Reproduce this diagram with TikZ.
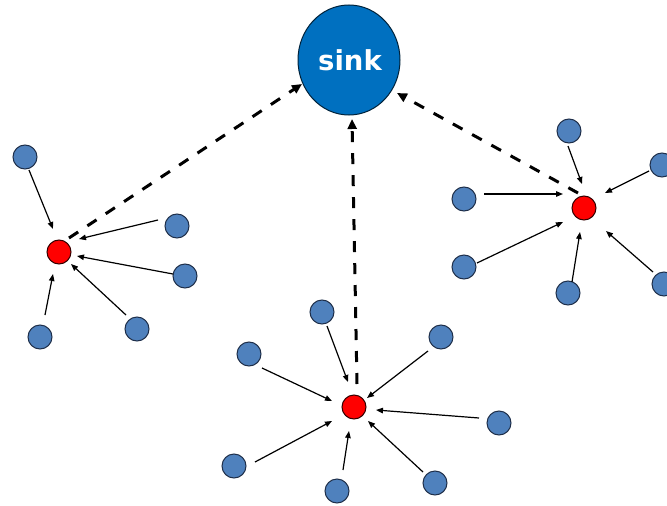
\documentclass[tikz,border=0pt]{standalone}
\usepackage{fontspec}
\newfontfamily\sinkfont{DejaVu Sans}
\usetikzlibrary{arrows.meta,shapes.geometric}

\definecolor{sensorblue}{HTML}{4F81BD}
\definecolor{sensoredge}{HTML}{1F2F4A}
\definecolor{headred}{HTML}{FF0000}
\definecolor{sinkblue}{HTML}{0070C0}

\tikzset{
  sensor/.style={circle, fill=sensorblue, draw=sensoredge, line width=1pt,
                 minimum size=24pt, inner sep=0pt},
  head/.style={circle, fill=headred, draw=black!80!red, line width=1pt,
               minimum size=24pt, inner sep=0pt},
  sinknode/.style={ellipse, fill=sinkblue, draw=black!70!sinkblue, line width=1pt,
                   minimum width=102pt, minimum height=110pt, inner sep=0pt},
  feed/.style={line width=1.2pt, -{Triangle[length=7pt,width=5.5pt]}},
  uplink/.style={line width=3pt, dash pattern=on 11pt off 11pt,
                 -{Triangle[length=10pt,width=9pt]}}
}

\begin{document}
\begin{tikzpicture}[x=1pt, y=-1pt]
\useasboundingbox (0,0) rectangle (667,506);

% sink
\node[sinknode] (sink) at (349,60) {};
\node[text=white, font=\sinkfont\bfseries\fontsize{27.5}{27.5}\selectfont] (sinklabel) at (350,60.5) {sink};

% cluster heads
\node[head] (r1) at (59,252) {};
\node[head] (r2) at (354,407) {};
\node[head] (r3) at (584,208) {};

% left cluster
\node[sensor] (l1) at (25,157) {};
\node[sensor] (l2) at (177,226) {};
\node[sensor] (l3) at (185,276) {};
\node[sensor] (l4) at (137,329) {};
\node[sensor] (l5) at (40,337) {};

% middle cluster
\node[sensor] (m1) at (322,312) {};
\node[sensor] (m2) at (249,354) {};
\node[sensor] (m3) at (441,337) {};
\node[sensor] (m4) at (499,423) {};
\node[sensor] (m5) at (234,466) {};
\node[sensor] (m6) at (337,491) {};
\node[sensor] (m7) at (435,483) {};

% right cluster
\node[sensor] (n1) at (569,131) {};
\node[sensor] (n2) at (662,165) {};
\node[sensor] (n3) at (464,199) {};
\node[sensor] (n4) at (464,267) {};
\node[sensor] (n5) at (568,293) {};
\node[sensor] (n6) at (664,284) {};

% sensors to left head
\draw[feed] ([shift={(4,13)}]l1.center) -- ([shift={(-6,-23)}]r1.center);
\draw[feed] ([shift={(-19,-6)}]l2.center) -- ([shift={(20,-13)}]r1.center);
\draw[feed] ([shift={(-12,-2)}]l3.center) -- ([shift={(18,4)}]r1.center);
\draw[feed] ([shift={(-11,-14)}]l4.center) -- ([shift={(12,12)}]r1.center);
\draw[feed] ([shift={(5,-22)}]l5.center) -- ([shift={(-6,22)}]r1.center);

% sensors to middle head
\draw[feed] ([shift={(5,14)}]m1.center) -- ([shift={(-6,-25)}]r2.center);
\draw[feed] ([shift={(13,14)}]m2.center) -- ([shift={(-22,-6)}]r2.center);
\draw[feed] ([shift={(-13,14)}]m3.center) -- ([shift={(13,-9)}]r2.center);
\draw[feed] ([shift={(-20,-5)}]m4.center) -- ([shift={(22,3)}]r2.center);
\draw[feed] ([shift={(21,-4)}]m5.center) -- ([shift={(-22,14)}]r2.center);
\draw[feed] ([shift={(6,-21)}]m6.center) -- ([shift={(-5,24)}]r2.center);
\draw[feed] ([shift={(-12,-11)}]m7.center) -- ([shift={(14,14)}]r2.center);

% sensors to right head
\draw[feed] ([shift={(-1,15)}]n1.center) -- ([shift={(-2,-24)}]r3.center);
\draw[feed] ([shift={(-13,6)}]n2.center) -- ([shift={(21,-15)}]r3.center);
\draw[feed] ([shift={(20,-5)}]n3.center) -- ([shift={(-21,-14)}]r3.center);
\draw[feed] ([shift={(13,-4)}]n4.center) -- ([shift={(-21,14)}]r3.center);
\draw[feed] ([shift={(4,-11)}]n5.center) -- ([shift={(-4,24)}]r3.center);
\draw[feed] ([shift={(-11,-12)}]n6.center) -- ([shift={(22,23)}]r3.center);

% cluster heads to sink
\draw[uplink] ([shift={(10,-14)}]r1.center) -- ([shift={(-47,24)}]sink.center);
\draw[uplink] ([shift={(3,-23)}]r2.center) -- ([shift={(3,59)}]sink.center);
\draw[uplink] ([shift={(-6,-15)}]r3.center) -- ([shift={(48,33)}]sink.center);
\end{tikzpicture}
\end{document}
